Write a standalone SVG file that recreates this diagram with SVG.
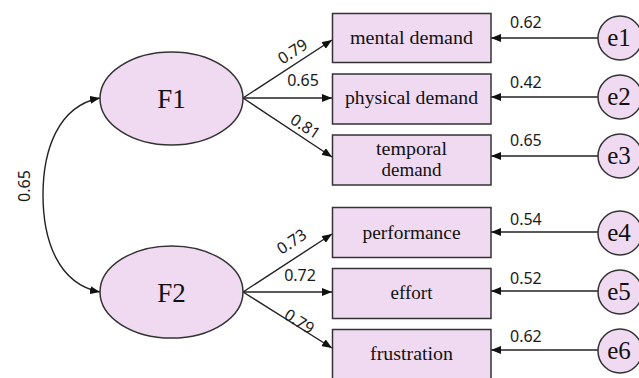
<svg xmlns="http://www.w3.org/2000/svg" width="639" height="378" viewBox="0 0 639 378">
  <style>
    .shape { fill: #efdaf1; stroke: #333; stroke-width: 1.5; }
    .edge { fill: none; stroke: #222; stroke-width: 1.4; }
    .lbl { font-family: "Liberation Serif", "DejaVu Serif", serif; fill: #111; text-anchor: middle; }
    .box { font-size: 19.5px; }
    .latent { font-size: 27px; }
    .err { font-size: 25px; }
    .num { font-family: "Noto Sans", "Open Sans", sans-serif; font-size: 16px; fill: #1a1a1a; }
    .mid { text-anchor: middle; }
  </style>
  <defs>
    <marker id="arrow" markerUnits="userSpaceOnUse" markerWidth="11" markerHeight="8" refX="10" refY="4" orient="auto-start-reverse">
      <path d="M0,0 L10,4 L0,8 z" fill="#111"/>
    </marker>
  </defs>

  <!-- connectors -->
  <g id="connectors">
    <path class="edge" d="M100,98 C58,106 43,150 43,195 C43,240 58,284 100,292" marker-start="url(#arrow)" marker-end="url(#arrow)"/>
    <path class="edge" d="M243,98 L332,40" marker-end="url(#arrow)"/>
    <path class="edge" d="M243,98 L332,98" marker-end="url(#arrow)"/>
    <path class="edge" d="M243,98 L332,157" marker-end="url(#arrow)"/>
    <path class="edge" d="M243,292 L332,234" marker-end="url(#arrow)"/>
    <path class="edge" d="M243,292 L332,292" marker-end="url(#arrow)"/>
    <path class="edge" d="M243,292 L332,348" marker-end="url(#arrow)"/>
    <path class="edge" d="M598,38 L491,38" marker-end="url(#arrow)"/>
    <path class="edge" d="M598,97 L491,97" marker-end="url(#arrow)"/>
    <path class="edge" d="M598,156 L491,156" marker-end="url(#arrow)"/>
    <path class="edge" d="M598,232 L491,232" marker-end="url(#arrow)"/>
    <path class="edge" d="M598,291 L491,291" marker-end="url(#arrow)"/>
    <path class="edge" d="M598,350 L491,350" marker-end="url(#arrow)"/>

    <text class="num mid" transform="translate(25,186) rotate(-90)" y="5">0.65</text>
    <text class="num mid" transform="translate(293,52) rotate(-33)" y="5">0.79</text>
    <text class="num mid" x="303" y="86">0.65</text>
    <text class="num mid" transform="translate(305,127) rotate(33)" y="5">0.81</text>
    <text class="num mid" transform="translate(292,242) rotate(-33.5)" y="5">0.73</text>
    <text class="num mid" x="300" y="281">0.72</text>
    <text class="num mid" transform="translate(299,322) rotate(32)" y="5">0.79</text>

    <text class="num" x="510" y="28">0.62</text>
    <text class="num" x="510" y="88">0.42</text>
    <text class="num" x="510" y="146">0.65</text>
    <text class="num" x="510" y="225">0.54</text>
    <text class="num" x="510" y="284">0.52</text>
    <text class="num" x="510" y="342">0.62</text>
  </g>

  <!-- latent factors -->
  <g id="F1">
    <ellipse class="shape" cx="171.5" cy="98.5" rx="71.5" ry="46.5"/>
    <text class="lbl latent" x="171.5" y="108">F1</text>
  </g>
  <g id="F2">
    <ellipse class="shape" cx="171.5" cy="292" rx="71.5" ry="46"/>
    <text class="lbl latent" x="171.5" y="301.5">F2</text>
  </g>

  <!-- observed indicators -->
  <g id="mental-demand">
    <rect class="shape" x="332.5" y="13.5" width="158.5" height="49"/>
    <text class="lbl box" x="411.5" y="44" textLength="123" lengthAdjust="spacingAndGlyphs">mental demand</text>
  </g>
  <g id="physical-demand">
    <rect class="shape" x="332.5" y="74" width="158.5" height="50"/>
    <text class="lbl box" x="411.5" y="104" textLength="133" lengthAdjust="spacingAndGlyphs">physical demand</text>
  </g>
  <g id="temporal-demand">
    <rect class="shape" x="332.5" y="135" width="158.5" height="50"/>
    <text class="lbl box" x="411.5" y="155" textLength="71" lengthAdjust="spacingAndGlyphs">temporal</text>
    <text class="lbl box" x="411.5" y="175.5" textLength="60" lengthAdjust="spacingAndGlyphs">demand</text>
  </g>
  <g id="performance">
    <rect class="shape" x="332.5" y="207.5" width="158.5" height="50"/>
    <text class="lbl box" x="411.5" y="238.5" textLength="98" lengthAdjust="spacingAndGlyphs">performance</text>
  </g>
  <g id="effort">
    <rect class="shape" x="332.5" y="268.5" width="158.5" height="50"/>
    <text class="lbl box" x="411.5" y="299" textLength="42" lengthAdjust="spacingAndGlyphs">effort</text>
  </g>
  <g id="frustration">
    <rect class="shape" x="332.5" y="329.5" width="158.5" height="52"/>
    <text class="lbl box" x="411.5" y="360" textLength="83" lengthAdjust="spacingAndGlyphs">frustration</text>
  </g>

  <!-- error terms -->
  <g id="e1">
    <circle class="shape" cx="620" cy="38" r="22"/>
    <text class="lbl err" x="619" y="46">e1</text>
  </g>
  <g id="e2">
    <circle class="shape" cx="620" cy="97" r="22"/>
    <text class="lbl err" x="619" y="105">e2</text>
  </g>
  <g id="e3">
    <circle class="shape" cx="620" cy="156" r="22"/>
    <text class="lbl err" x="619" y="164">e3</text>
  </g>
  <g id="e4">
    <circle class="shape" cx="620" cy="233" r="22"/>
    <text class="lbl err" x="619" y="241">e4</text>
  </g>
  <g id="e5">
    <circle class="shape" cx="620" cy="292" r="22"/>
    <text class="lbl err" x="619" y="300">e5</text>
  </g>
  <g id="e6">
    <circle class="shape" cx="620" cy="351" r="22"/>
    <text class="lbl err" x="619" y="359">e6</text>
  </g>
</svg>
